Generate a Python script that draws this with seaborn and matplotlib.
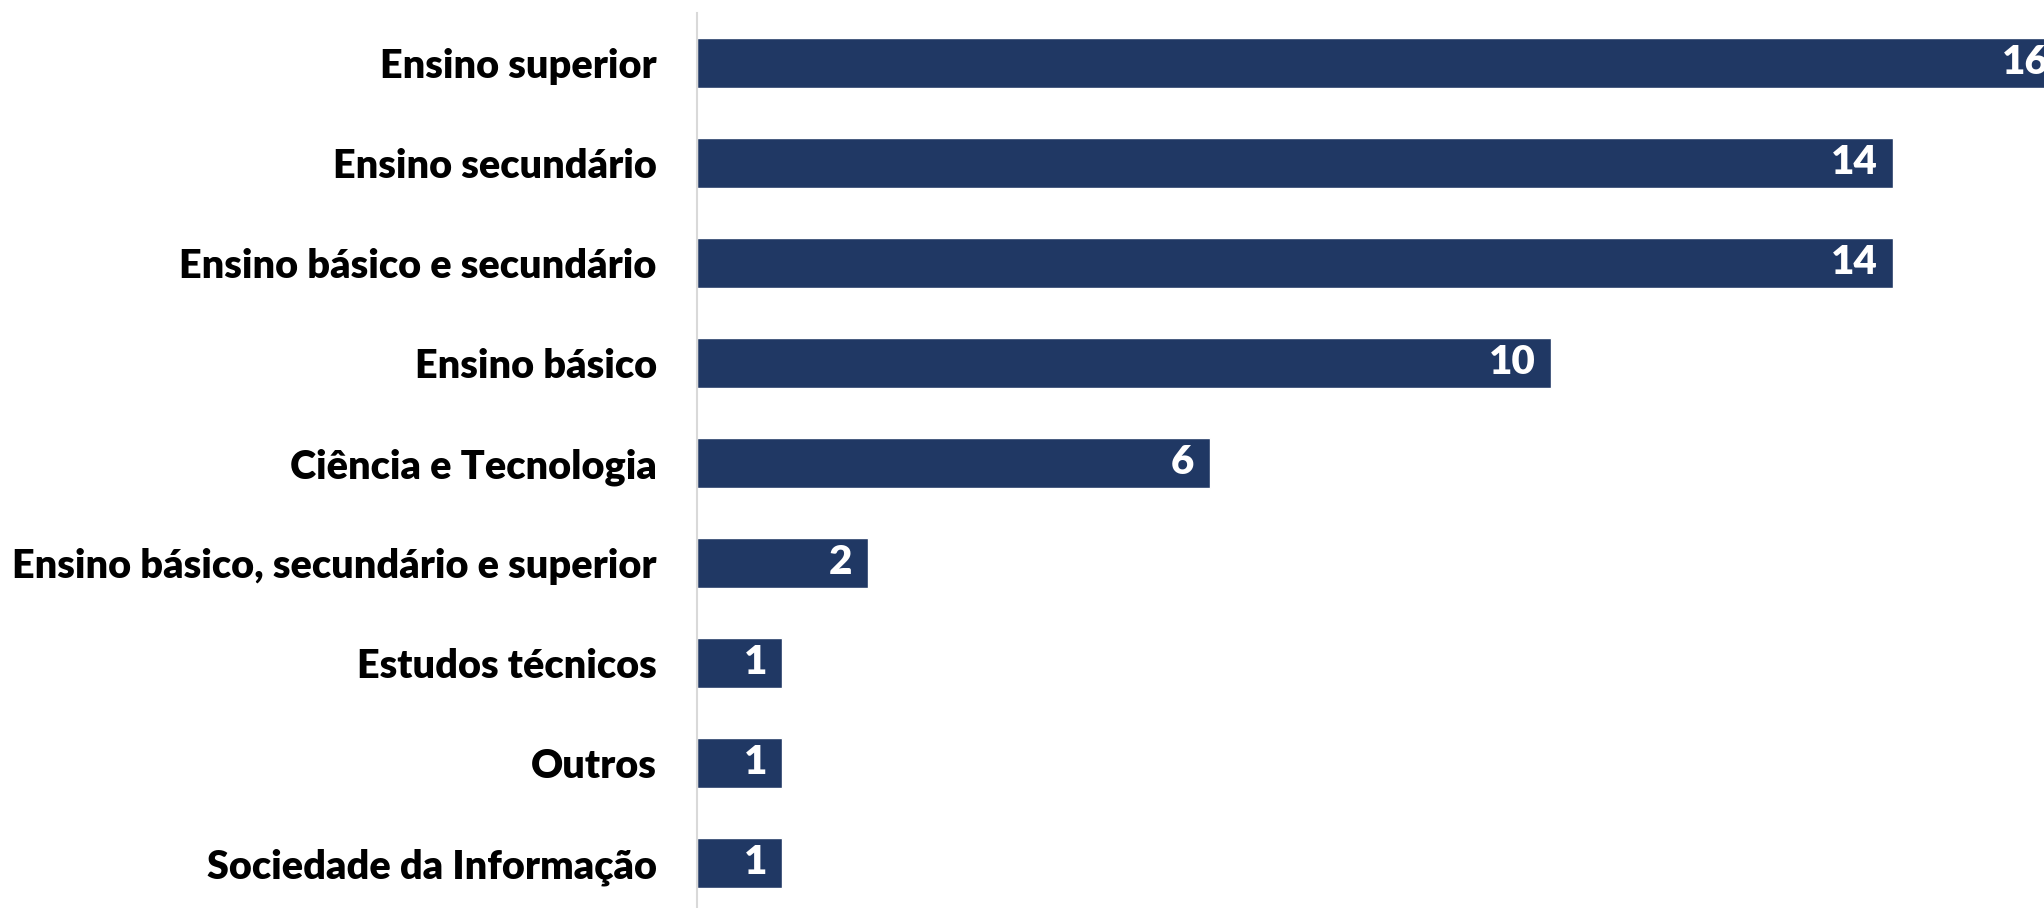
import pandas as pd
import matplotlib.pyplot as plt
import seaborn as sns
from matplotlib.ticker import FixedLocator

# DADOS
categorias = ['Ensino superior', 'Ensino secundário', 'Ensino básico e secundário',
              'Ensino básico', 'Ciência e Tecnologia', 'Ensino básico, secundário e superior',
              'Estudos técnicos', 'Outros', 'Sociedade da Informação']
valores = [16, 14, 14, 10, 6, 2, 1, 1, 1]

dados = pd.DataFrame({'Categoria': categorias, 'Valor': valores})

sns.set_style('white')
plt.rcParams['font.family'] = ['Lato', 'DejaVu Sans']

fig = plt.figure(figsize = (20.44, 9.08), dpi = 100)
# eixo começa em x=697px, 16 cai fora da imagem (cortado como no original)
ax = fig.add_axes([697 / 2044, 1 - 913 / 908, 1367 / 2044, 900 / 908])

sns.barplot(x = 'Valor', y = 'Categoria', data = dados, orient = 'h',
            color = '#203864', width = 0.5, saturation = 1, ax = ax)

ax.set_xlim(0, 16)
ax.set_ylim(len(categorias) - 0.5, -0.5)
ax.set_xlabel('')
ax.set_ylabel('')
ax.set_xticks([])

for s in ['top', 'right', 'bottom']:
    ax.spines[s].set_visible(False)
ax.spines['left'].set_color('#d9d9d9')
ax.spines['left'].set_linewidth(1.5)

ax.yaxis.set_minor_locator(FixedLocator([i - 0.5 for i in range(len(categorias) + 1)]))
ax.tick_params(axis = 'y', which = 'major', length = 0, pad = 29)
ax.tick_params(axis = 'y', which = 'minor', length = 10, width = 1.2, color = '#d9d9d9')
for lbl in ax.get_yticklabels():
    lbl.set_fontsize(28.5)
    lbl.set_fontweight('heavy')
    lbl.set_color('black')

# rótulos dos valores dentro da barra
for i, v in enumerate(valores):
    ax.annotate(str(v), xy = (v, i), xytext = (-11, 0), textcoords = 'offset points',
                ha = 'right', va = 'center', color = 'white', fontsize = 29, fontweight = 'heavy')

plt.savefig('out.png', dpi = 100)
